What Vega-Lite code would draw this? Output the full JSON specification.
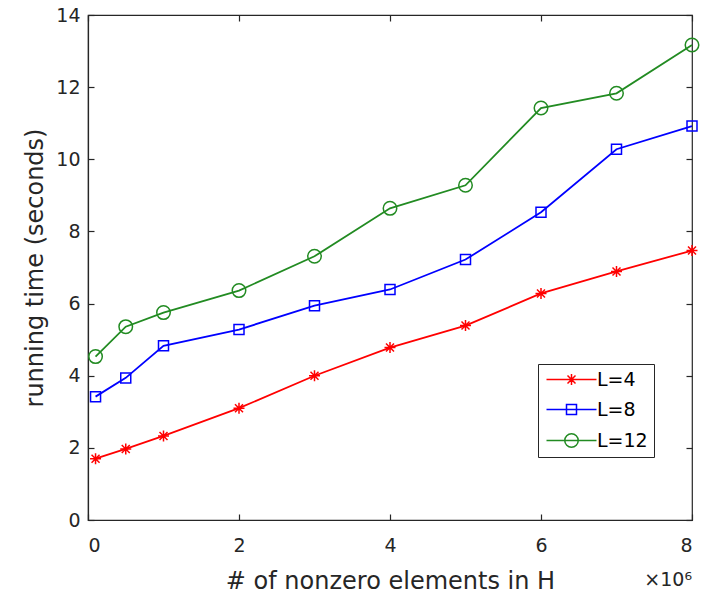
{
  "$schema": "https://vega.github.io/schema/vega-lite/v6.json",
  "width": 604,
  "height": 505,
  "autosize": {"type": "none"},
  "padding": {"left": 88, "top": 15, "right": 12, "bottom": 78},
  "background": "white",
  "config": {
    "font": "DejaVu Sans",
    "view": {"stroke": "#262626", "strokeWidth": 1.2},
    "axis": {
      "grid": false,
      "domainColor": "#262626",
      "domainWidth": 1.2,
      "tickColor": "#262626",
      "tickWidth": 1.2,
      "labelColor": "#262626",
      "titleColor": "#262626",
      "labelFont": "DejaVu Sans",
      "titleFont": "DejaVu Sans",
      "labelFontSize": 19,
      "titleFontSize": 24,
      "titleFontWeight": "normal"
    },
    "legend": {
      "labelFontSize": 19,
      "labelFont": "DejaVu Sans",
      "labelColor": "#000000"
    }
  },
  "data": {
    "values": [
      {"n": 0.1, "t": 1.7, "L": "L=4"},
      {"n": 0.5, "t": 1.97, "L": "L=4"},
      {"n": 1, "t": 2.33, "L": "L=4"},
      {"n": 2, "t": 3.1, "L": "L=4"},
      {"n": 3, "t": 4.0, "L": "L=4"},
      {"n": 4, "t": 4.78, "L": "L=4"},
      {"n": 5, "t": 5.39, "L": "L=4"},
      {"n": 6, "t": 6.28, "L": "L=4"},
      {"n": 7, "t": 6.89, "L": "L=4"},
      {"n": 8, "t": 7.47, "L": "L=4"},
      {"n": 0.1, "t": 3.42, "L": "L=8"},
      {"n": 0.5, "t": 3.94, "L": "L=8"},
      {"n": 1, "t": 4.83, "L": "L=8"},
      {"n": 2, "t": 5.28, "L": "L=8"},
      {"n": 3, "t": 5.94, "L": "L=8"},
      {"n": 4, "t": 6.39, "L": "L=8"},
      {"n": 5, "t": 7.22, "L": "L=8"},
      {"n": 6, "t": 8.53, "L": "L=8"},
      {"n": 7, "t": 10.28, "L": "L=8"},
      {"n": 8, "t": 10.92, "L": "L=8"},
      {"n": 0.1, "t": 4.53, "L": "L=12"},
      {"n": 0.5, "t": 5.36, "L": "L=12"},
      {"n": 1, "t": 5.75, "L": "L=12"},
      {"n": 2, "t": 6.36, "L": "L=12"},
      {"n": 3, "t": 7.31, "L": "L=12"},
      {"n": 4, "t": 8.64, "L": "L=12"},
      {"n": 5, "t": 9.28, "L": "L=12"},
      {"n": 6, "t": 11.42, "L": "L=12"},
      {"n": 7, "t": 11.83, "L": "L=12"},
      {"n": 8, "t": 13.17, "L": "L=12"}
    ]
  },
  "resolve": {"scale": {"shape": "independent", "color": "independent"}, "axis": {"x": "independent", "y": "independent"}},
  "layer": [
    {
      "mark": {"type": "line", "strokeWidth": 1.8},
      "encoding": {
        "x": {"field": "n", "type": "quantitative", "scale": {"domain": [0, 8], "nice": false},
              "axis": {"values": [0, 2, 4, 6, 8], "tickSize": -6, "labelPadding": 22, "title": "# of nonzero elements in H", "titlePadding": 14}},
        "y": {"field": "t", "type": "quantitative", "scale": {"domain": [0, 14], "nice": false},
              "axis": {"values": [0, 2, 4, 6, 8, 10, 12, 14], "tickSize": -6, "labelPadding": 14, "title": "running time (seconds)", "titlePadding": 8}},
        "color": {"field": "L", "type": "nominal", "scale": {"domain": ["L=4", "L=8", "L=12"], "range": ["#ff0000", "#0000ff", "#228b22"]}, "legend": null},
        "detail": {"field": "L"}
      }
    },
    {
      "mark": {"type": "point", "filled": false, "strokeWidth": 1.5, "size": 100, "opacity": 1},
      "encoding": {
        "x": {"field": "n", "type": "quantitative", "axis": {"orient": "top", "values": [0, 2, 4, 6, 8], "tickSize": -6, "labels": false, "title": null, "domain": false}},
        "y": {"field": "t", "type": "quantitative", "axis": {"orient": "right", "values": [0, 2, 4, 6, 8, 10, 12, 14], "tickSize": -6, "labels": false, "title": null, "domain": false}},
        "color": {"field": "L", "type": "nominal", "scale": {"domain": ["L=4", "L=8", "L=12"], "range": ["#ff0000", "#0000ff", "#228b22"]}, "legend": null},
        "shape": {"field": "L", "type": "nominal", "legend": null,
          "scale": {"domain": ["L=4", "L=8", "L=12"], "range": [
            "M-1.1,0L1.1,0M0,-1.1L0,1.1M-0.8,-0.8L0.8,0.8M-0.8,0.8L0.8,-0.8",
            "M-1,-1L1,-1L1,1L-1,1Z",
            "M-1.35,0A1.35,1.35 0 1,1 1.35,0A1.35,1.35 0 1,1 -1.35,0Z"
          ]}}
      }
    },
    {
      "transform": [{"filter": "datum.n > 100"}],
      "mark": {"type": "point", "filled": false, "strokeWidth": 1.5, "size": 100, "opacity": 1},
      "encoding": {
        "x": {"field": "n", "type": "quantitative", "axis": null},
        "y": {"field": "t", "type": "quantitative", "axis": null},
        "color": {"field": "L", "type": "nominal",
          "scale": {"domain": ["L=4", "L=8", "L=12"], "range": ["#ff0000", "#0000ff", "#228b22"]},
          "legend": {
            "title": null,
            "orient": "none",
            "legendX": 450,
            "legendY": 349,
            "symbolSize": 100,
            "symbolStrokeWidth": 1.5,
            "symbolOffset": 18,
            "labelOffset": 16,
            "rowPadding": 10,
            "padding": 6,
            "strokeColor": "#262626",
            "fillColor": "white"
          }},
        "shape": {"field": "L", "type": "nominal",
          "scale": {"domain": ["L=4", "L=8", "L=12"], "range": [
            "M-5,0L5,0M-1.1,0L1.1,0M0,-1.1L0,1.1M-0.8,-0.8L0.8,0.8M-0.8,0.8L0.8,-0.8",
            "M-5,0L5,0M-1,-1L1,-1L1,1L-1,1Z",
            "M-5,0L5,0M-1.35,0A1.35,1.35 0 1,1 1.35,0A1.35,1.35 0 1,1 -1.35,0Z"
          ]},
          "legend": {
            "title": null,
            "orient": "none",
            "legendX": 450,
            "legendY": 349,
            "symbolSize": 100,
            "symbolStrokeWidth": 1.5,
            "symbolOffset": 18,
            "labelOffset": 16,
            "rowPadding": 10,
            "padding": 6,
            "strokeColor": "#262626",
            "fillColor": "white"
          }
        }
      }
    },
    {
      "data": {"values": [{"n": 8, "t": 0, "label": "×10⁶"}]},
      "mark": {"type": "text", "align": "right", "baseline": "alphabetic", "dy": 66, "dx": 0, "fontSize": 19, "color": "#262626", "font": "DejaVu Sans"},
      "encoding": {
        "x": {"field": "n", "type": "quantitative", "axis": null},
        "y": {"field": "t", "type": "quantitative", "axis": null},
        "text": {"field": "label"}
      }
    }
  ]
}
